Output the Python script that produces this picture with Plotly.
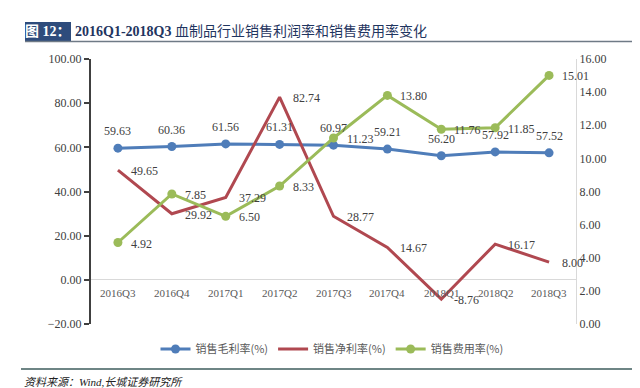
import plotly.graph_objects as go

categories = ["2016Q3", "2016Q4", "2017Q1", "2017Q2", "2017Q3", "2017Q4", "2018Q1", "2018Q2", "2018Q3"]
gross_margin = [59.63, 60.36, 61.56, 61.31, 60.97, 59.21, 56.20, 57.92, 57.52]
net_margin = [49.65, 29.92, 37.29, 82.74, 28.77, 14.67, -8.76, 16.17, 8.00]
expense_ratio = [4.92, 7.85, 6.50, 8.33, 11.23, 13.80, 11.76, 11.85, 15.01]
names = ["销售毛利率(%)", "销售净利率(%)", "销售费用率(%)"]
left_ticks = [-20, 0, 20, 40, 60, 80, 100]
right_ticks = [0, 2, 4, 6, 8, 10, 12, 14, 16]

BLUE = "#4F7DB9"
RED = "#B04850"
GREEN = "#9BBB59"
NUM_FONT = "Liberation Serif, Noto Sans CJK SC, serif"
CJK_FONT = "Noto Sans CJK SC, sans-serif"
LABEL_FONT = dict(family=NUM_FONT, size=12, color="#404040")

fig = go.Figure()
fig.add_trace(go.Scatter(
    x=categories, y=gross_margin, name=names[0], mode="lines+markers",
    line=dict(color=BLUE, width=3), marker=dict(size=9, color=BLUE), cliponaxis=False))
fig.add_trace(go.Scatter(
    x=categories, y=net_margin, name=names[1], mode="lines",
    line=dict(color=RED, width=3), cliponaxis=False))
fig.add_trace(go.Scatter(
    x=categories, y=expense_ratio, name=names[2], mode="lines+markers", yaxis="y2",
    line=dict(color=GREEN, width=3), marker=dict(size=9, color=GREEN), cliponaxis=False))

# data labels
for c, v in zip(categories, gross_margin):
    fig.add_annotation(x=c, y=v, xref="x", yref="y", text=f"{v:.2f}", showarrow=False,
                       xanchor="center", yanchor="middle", yshift=17, font=LABEL_FONT)
for c, v in zip(categories, net_margin):
    fig.add_annotation(x=c, y=v, xref="x", yref="y", text=f"{v:.2f}", showarrow=False,
                       xanchor="left", yanchor="middle", xshift=11, yshift=-1, font=LABEL_FONT)
for c, v in zip(categories, expense_ratio):
    fig.add_annotation(x=c, y=v, xref="x", yref="y2", text=f"{v:.2f}", showarrow=False,
                       xanchor="left", yanchor="middle", xshift=11, yshift=-1, font=LABEL_FONT)

# category labels sit just under the zero line
for c in categories:
    fig.add_annotation(x=c, y=0, xref="x", yref="y", text=c, showarrow=False,
                       yanchor="top", yshift=-5,
                       font=dict(family=NUM_FONT, size=11, color="#595959"))

def px(xp):
    return (xp - 83) / 485

def py(yp):
    return (316 - yp) / 265

shapes = [
    dict(type="rect", xref="paper", yref="paper", x0=px(17), x1=px(63), y0=py(33), y1=py(14),
         fillcolor="#2E4C7C", line=dict(width=0), layer="below"),
    dict(type="line", xref="paper", yref="paper", x0=px(17), x1=px(628), y0=py(33.5), y1=py(33.5),
         line=dict(color="#6F7A86", width=1.5)),
    dict(type="line", xref="paper", yref="paper", x0=px(13), x1=px(630), y0=py(361), y1=py(361),
         line=dict(color="#3E5C5C", width=1.5)),
]
fig.add_annotation(xref="paper", yref="paper", x=px(40), y=py(23.5), text="<b>图 12：</b>",
                   showarrow=False, xanchor="center", yanchor="middle",
                   font=dict(family=NUM_FONT, size=14, color="white"))
fig.add_annotation(xref="paper", yref="paper", x=px(65), y=py(23.5),
                   text="<b>2016Q1-2018Q3</b> 血制品行业销售利润率和销售费用率变化",
                   showarrow=False, xanchor="left", yanchor="middle",
                   font=dict(family=NUM_FONT, size=14, color="#1F3560"))
fig.add_annotation(xref="paper", yref="paper", x=px(14), y=py(374),
                   text="<i>资料来源：Wind,长城证券研究所</i>",
                   showarrow=False, xanchor="left", yanchor="middle",
                   font=dict(family="Liberation Serif, Noto Sans CJK SC, serif", size=11, color="#222222"))

fig.update_layout(
    width=640, height=388,
    margin=dict(l=83, r=72, t=51, b=72),
    paper_bgcolor="white", plot_bgcolor="white",
    showlegend=True,
    legend=dict(orientation="h", x=px(324), y=py(341), xanchor="center", yanchor="middle",
                font=dict(family=CJK_FONT, size=11, color="#595959"), itemwidth=30,
                bgcolor="rgba(0,0,0,0)"),
    xaxis=dict(type="category", range=[-0.5, 8.5], showticklabels=False, showgrid=False,
               showline=False, zeroline=False, ticks=""),
    yaxis=dict(range=[-20, 100], tickvals=left_ticks, tickformat=".2f", showgrid=False,
               showline=True, linecolor="#404040", linewidth=2, ticks="outside",
               ticklen=5, tickwidth=2, tickcolor="#404040",
               zeroline=True, zerolinecolor="#D9D9D9", zerolinewidth=1,
               tickfont=dict(family=NUM_FONT, size=12, color="#404040")),
    yaxis2=dict(range=[0, 16], tickvals=right_ticks, tickformat=".2f", overlaying="y", side="right",
                showgrid=False, showline=True, linecolor="#D9D9D9", linewidth=1, ticks="",
                zeroline=False,
                tickfont=dict(family=NUM_FONT, size=12, color="#404040")),
    shapes=shapes,
)

fig.write_html("out.html")
